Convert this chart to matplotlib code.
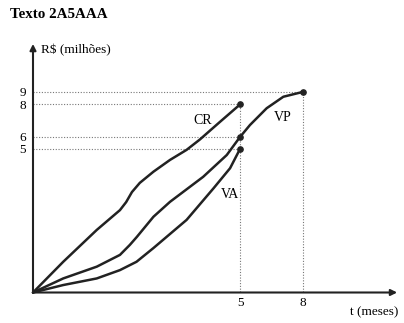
import numpy as np
import matplotlib
matplotlib.use("Agg")
import matplotlib.pyplot as plt

plt.rcParams['font.family'] = ['Liberation Serif', 'DejaVu Serif']

# curvas do gráfico (t em meses, valores em R$ milhões)
t_cr = [0, 0.73, 1.54, 2.10, 2.25, 2.39, 2.58, 2.91, 3.31, 3.71, 4.03, 4.52, 5]
v_cr = [0, 1.07, 2.18, 2.87, 3.15, 3.50, 3.82, 4.21, 4.62, 4.97, 5.79, 6.94, 8]

t_vp = [0, 0.73, 1.54, 2.10, 2.34, 2.51, 2.91, 3.31, 4.11, 4.68, 5, 5.48, 6.28, 7.08, 8]
v_vp = [0, 0.49, 0.90, 1.31, 1.66, 1.94, 2.64, 3.16, 4.03, 4.79, 6, 6.74, 7.77, 8.62, 9]

t_va = [0, 0.73, 1.54, 2.10, 2.50, 2.91, 3.71, 4.36, 4.76, 5]
v_va = [0, 0.26, 0.49, 0.78, 1.07, 1.55, 2.53, 3.63, 4.33, 5]

# pontos marcados e valores nos eixos
pts_t = [5, 5, 5, 8]
pts_v = [8, 6, 5, 9]
xticks = [5, 8]
yticks = [5, 6, 8, 9]

# escala esquemática (espaçamento dos eixos não é proporcional)
x_data = [-10, 0, 5, 8, 30]
x_scaled = [-414, 0, 207, 269.5, 727.8]
y_data = [-10, 0, 5, 6, 8, 9, 30]
y_scaled = [-287, 0, 143.5, 155.5, 188, 200.5, 463]


def fwd_x(v):
    return np.interp(v, x_data, x_scaled)


def inv_x(v):
    return np.interp(v, x_scaled, x_data)


def fwd_y(v):
    return np.interp(v, y_data, y_scaled)


def inv_y(v):
    return np.interp(v, y_scaled, y_data)


fig = plt.figure(figsize=(4.04, 3.23), dpi=100)
ax = fig.add_axes([0, 0, 1, 1])
ax.set_xscale('function', functions=(fwd_x, inv_x))
ax.set_yscale('function', functions=(fwd_y, inv_y))
ax.set_xlim(inv_x(-33), inv_x(371))
ax.set_ylim(inv_y(-30.5), inv_y(292.5))
ax.patch.set_visible(False)
ax.spines['top'].set_visible(False)
ax.spines['right'].set_visible(False)
# eixos passam pela origem; as linhas são desenhadas como setas abaixo
ax.spines['left'].set_position(('data', 0))
ax.spines['bottom'].set_position(('data', 0))
ax.spines['left'].set_linewidth(0)
ax.spines['bottom'].set_linewidth(0)

# linhas pontilhadas de referência
dot = dict(color='#777777', lw=0.8, ls=(0, (1, 1.5)))
for tx, vy in zip(pts_t, pts_v):
    ax.plot([0, tx], [vy, vy], **dot)
ax.plot([5, 5], [0, 8], **dot)
ax.plot([8, 8], [0, 9], **dot)

# curvas
ink = '#222222'
ax.plot(t_cr, v_cr, color=ink, lw=1.8, solid_capstyle='round', solid_joinstyle='round')
ax.plot(t_vp, v_vp, color=ink, lw=1.8, solid_capstyle='round', solid_joinstyle='round')
ax.plot(t_va, v_va, color=ink, lw=1.8, solid_capstyle='round', solid_joinstyle='round')
ax.plot(pts_t, pts_v, 'o', color=ink, ms=3.8)

ax.text(4.1, 7.0, 'CR', fontsize=10, ha='center', va='center')
ax.text(7.05, 7.23, 'VP', fontsize=10, ha='center', va='center')
ax.text(4.76, 3.43, 'VA', fontsize=10, ha='center', va='center')

# eixos com setas
arrow = dict(arrowstyle='-|>', lw=1.5, color=ink, mutation_scale=9,
             shrinkA=0, shrinkB=0)
ax.annotate('', xy=(0.983, 0), xytext=(0, 0),
            xycoords=('axes fraction', 'data'), textcoords='data',
            arrowprops=arrow)
ax.annotate('', xy=(0, 0.864), xytext=(0, 0),
            xycoords=('data', 'axes fraction'), textcoords='data',
            arrowprops=arrow)

ax.set_xticks(xticks)
ax.set_xticklabels([str(v) for v in xticks])
ax.set_yticks(yticks)
ax.set_yticklabels([str(v) for v in yticks])
ax.tick_params(length=0, labelsize=9.5)
ax.tick_params(axis='x', pad=3)
ax.tick_params(axis='y', pad=5)

fig.text(10 / 404, 1 - 15 / 323, 'Texto 2A5AAA', fontsize=10.8,
         fontweight='bold', ha='left', va='center')
fig.text(41 / 404, 1 - 50 / 323, 'R$ (milhões)', fontsize=9.5,
         ha='left', va='center')
fig.text(350 / 404, 1 - 312 / 323, 't (meses)', fontsize=9.5,
         ha='left', va='center')

fig.savefig('out.png', dpi=100)
